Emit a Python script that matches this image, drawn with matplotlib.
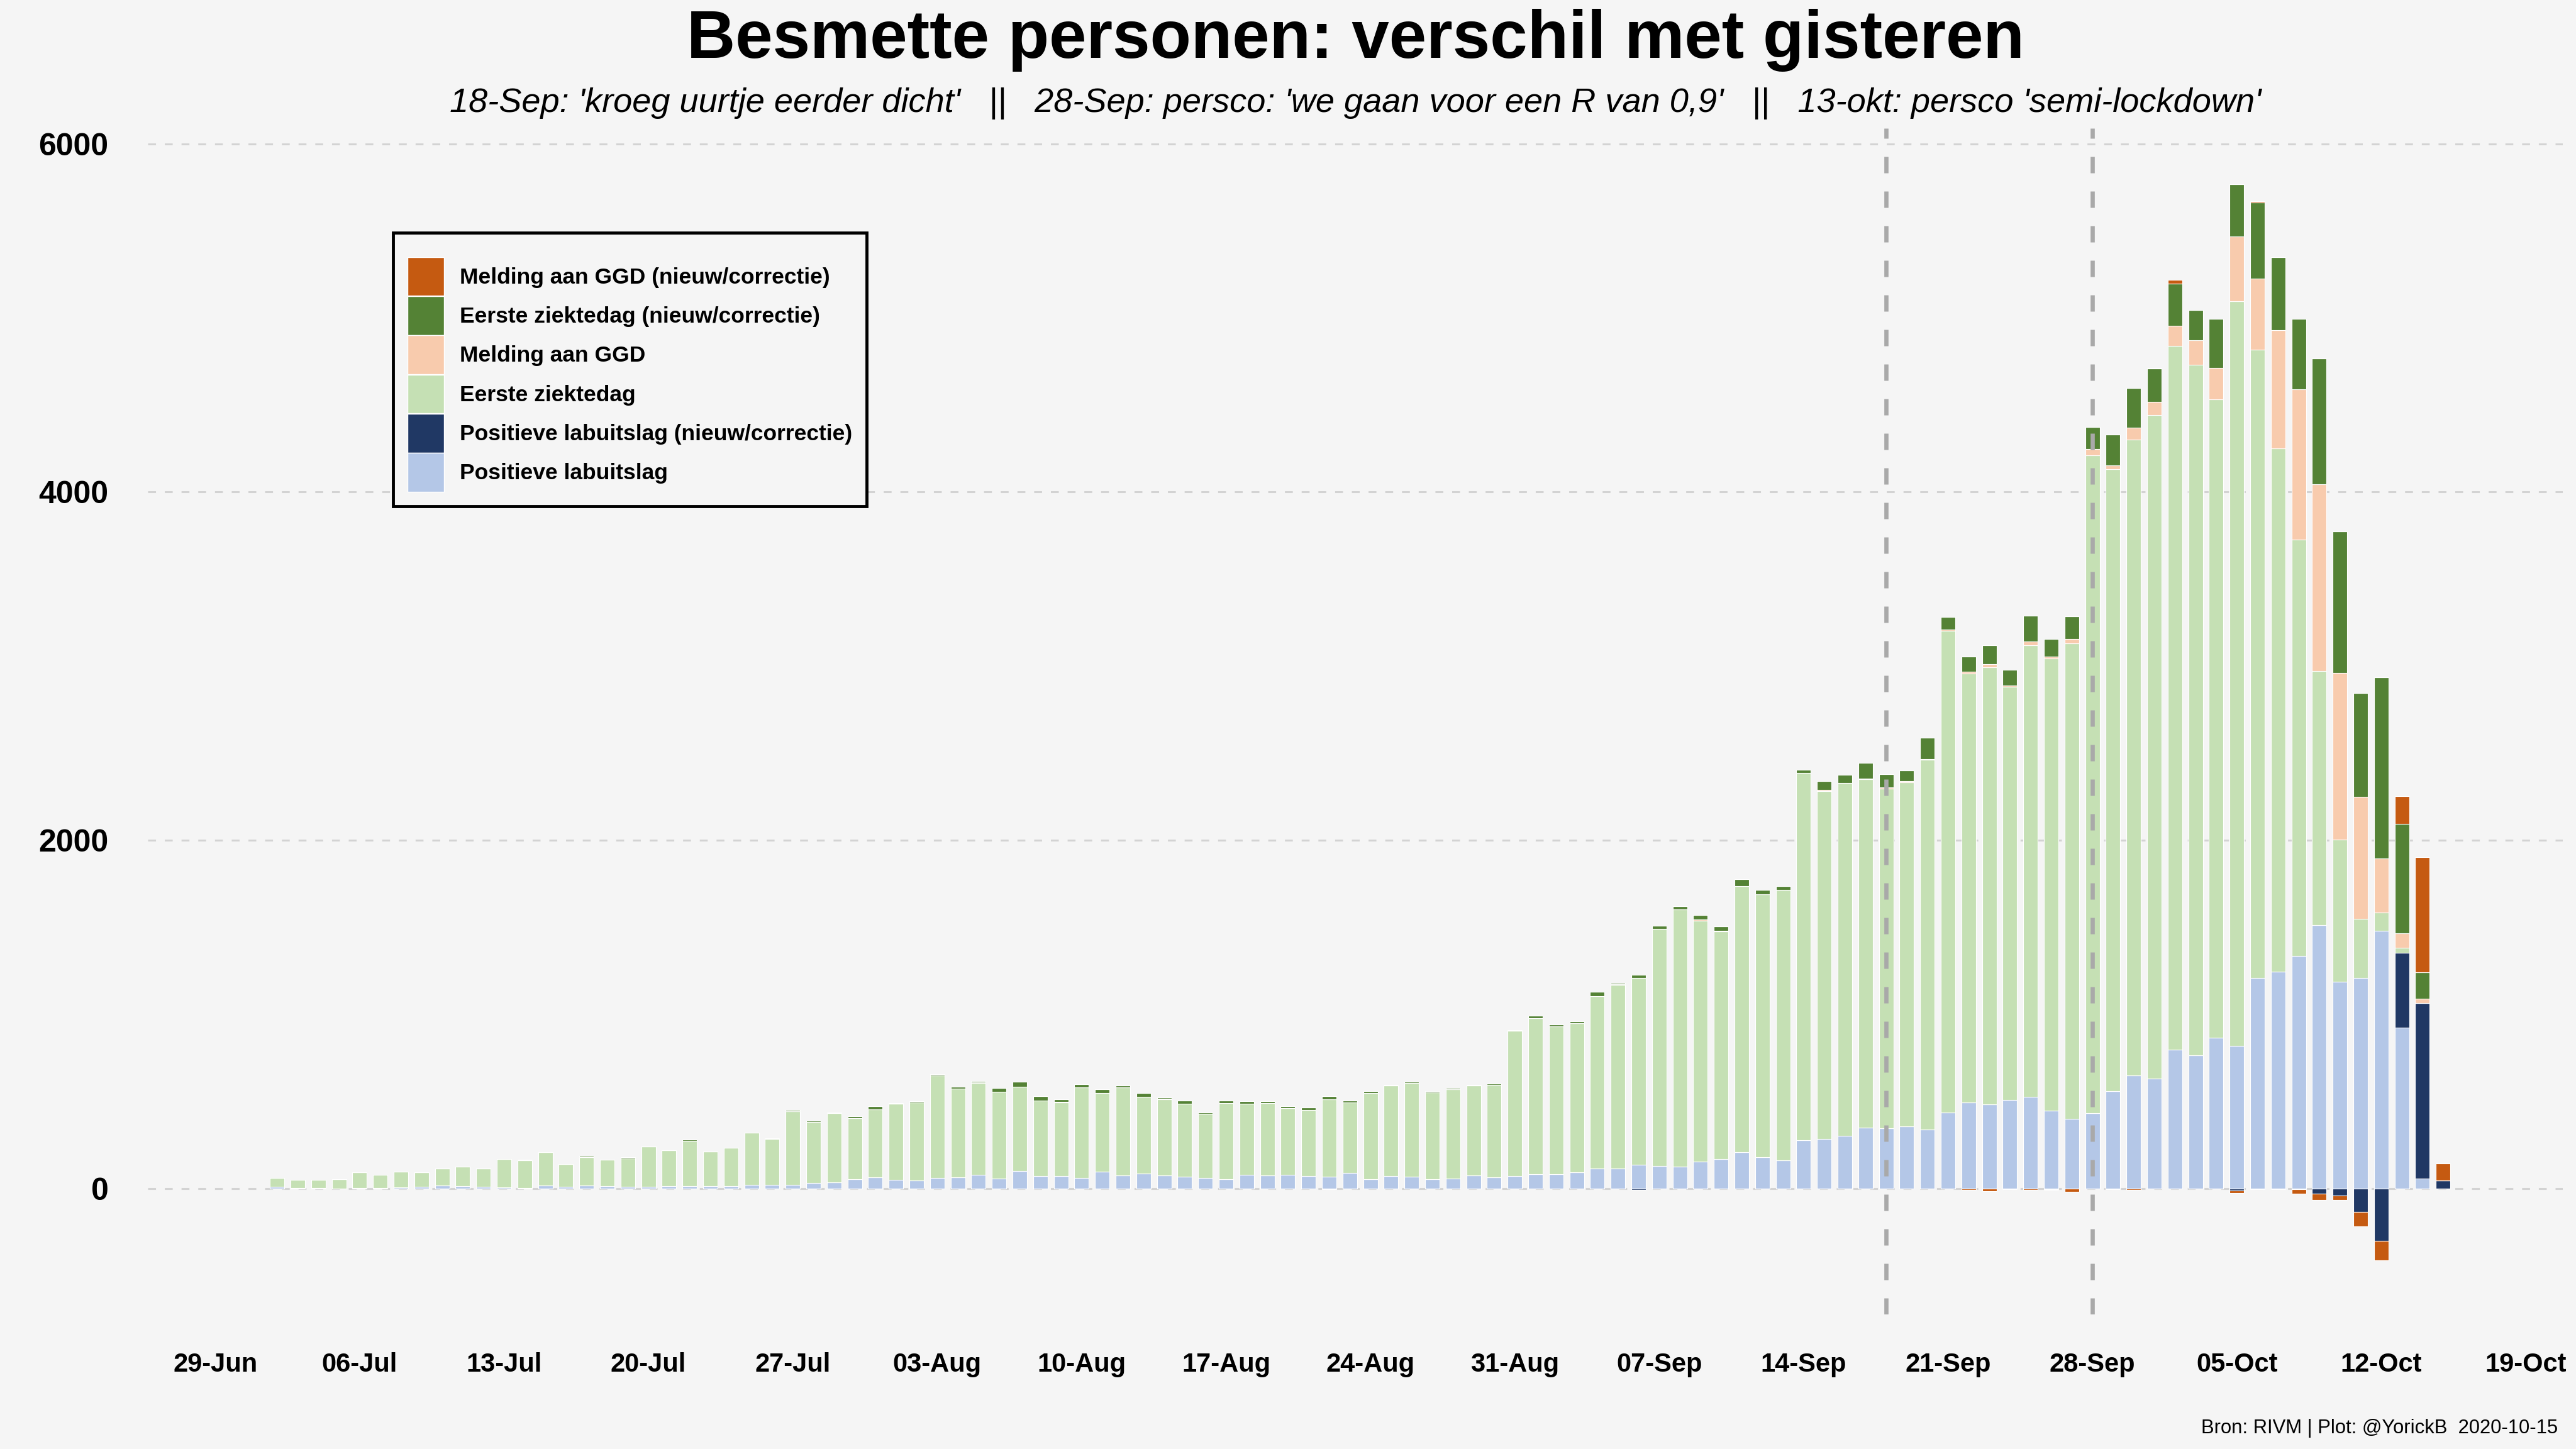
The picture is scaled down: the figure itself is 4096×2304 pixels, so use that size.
import numpy as np
import pandas as pd
import matplotlib
matplotlib.use("Agg")
import matplotlib.pyplot as plt
import matplotlib.dates as mdates
from matplotlib.patches import Patch

plt.rcParams['font.family'] = ['Liberation Sans', 'DejaVu Sans']

# dagen: 2 jul t/m 15 okt 2020
dates = pd.date_range("2020-07-02", "2020-10-15", freq="D")

# Positieve labuitslag (lichtblauw)
lab = ([10, 4, 2, 0, 2, 1, 5, 10, 17, 13, 10, 6, 2, 17, 10, 17, 13, 10, 10, 13,
        13, 13, 13, 20, 20, 20, 31, 35, 53, 64] +
       [49, 46, 60, 64, 78, 56, 100, 71, 71, 60, 96, 75, 85, 75, 67, 60, 53, 78,
        75, 78, 71, 66, 90, 53, 71, 66, 53, 58, 75, 64, 71] +
       [83, 83, 94, 115, 113, 137, 130, 126, 154, 169, 207, 180, 162, 277, 283,
        301, 350, 344, 356, 338, 434, 492, 481, 507, 527, 446, 400, 431, 558, 650] +
       [631, 797, 765, 866, 820, 1208, 1246, 1336, 1511, 1189, 1210, 1480, 924, 56, 0])

# Positieve labuitslag (nieuw/correctie)
lab_corr = ([0] * 30 +
            [0] * 14 + [-3] + [0] * 16 +
            [0, 0, 0, 0, 0, -8, 0, 0, 0, 0, 0, 0, 0, 0, 0, 0, 0, 0, 0, 0,
             0, 0, 0, -3, 0, -4, 0, -3, -6, 0] +
            [0, 0, 0, -3, -13, -6, 0, -4, -31, -42, -134, -301, 428, 1007, 45])

# Eerste ziektedag
ziekte = ([50, 44, 46, 52, 89, 77, 91, 84, 99, 112, 106, 163, 159, 191, 130, 162,
           152, 163, 230, 207, 260, 199, 219, 299, 264, 424, 352, 397, 350, 390] +
          [436, 447, 590, 510, 527, 499, 483, 432, 424, 520, 451, 505, 440, 435,
           420, 368, 437, 409, 415, 383, 381, 445, 404, 496, 521, 541, 499, 513,
           515, 530, 833] +
          [896, 847, 853, 990, 1056, 1073, 1362, 1475, 1385, 1306, 1529, 1511,
           1551, 2109, 1999, 2027, 1999, 1952, 1978, 2124, 2769, 2467, 2513, 2376,
           2594, 2597, 2730, 3780, 3572, 3652] +
          [3810, 4044, 3968, 3666, 4278, 3610, 3004, 2392, 1460, 815, 338, 106, 31, 0, 0])

# Melding aan GGD
melding = ([0] * 30 +
           [0, 0, 0, 0, 4, 0, 0, 0, 2, 0, 0, 0, 0, 4, 0, 0, 0, 0, 0, 0,
            0, 0, 0, 0, 0, 0, 0, 0, 0, 0, 0] +
           [0, 0, 0, 0, 5, 0, 0, 0, 5, 4, 0, 0, 0, 0, 6, 0, 6, 6, 6, 6,
            9, 9, 17, 6, 21, 12, 26, 38, 25, 69] +
           [79, 115, 140, 180, 371, 409, 679, 862, 1073, 958, 701, 311, 82, 27, 0])

# Eerste ziektedag (nieuw/correctie)
ziekte_corr = ([0] * 12 + [4, 0, 0, 8, 0, 5, 0, 0, 7, 0, 0, 0, 5, 8, 7, 4, 11, 17] +
               [6, 7, 6, 9, 8, 20, 28, 25, 15, 18, 24, 11, 21, 8, 17, 8, 14, 13,
                10, 12, 11, 17, 11, 11, 4, 4, 6, 4, 6, 7, 5] +
               [13, 13, 11, 26, 6, 17, 17, 20, 25, 26, 41, 22, 25, 18, 52, 47, 90,
                79, 61, 122, 72, 86, 108, 90, 148, 101, 131, 125, 176, 226] +
               [190, 242, 174, 283, 300, 436, 422, 405, 725, 813, 598, 1038, 629, 150, 0])

# Melding aan GGD (nieuw/correctie)
melding_corr = ([0] * 30 +
                [0] * 21 + [-4] + [0] * 9 +
                [0] * 21 + [-7, -15, -3, -10, -4, -20, 0, 0, -8] +
                [3, 20, 0, 0, -15, 7, -4, -25, -36, -25, -85, -112, 159, 662, 98])

c_lab = "#B4C7E7"
c_lab_corr = "#203864"
c_ziekte = "#C5E0B4"
c_melding = "#F8CBAD"
c_ziekte_corr = "#548235"
c_melding_corr = "#C55A11"
bg = "#f5f5f5"

fig = plt.figure(figsize=(40.96, 23.04), dpi=100, facecolor=bg)
ax = fig.add_axes([235 / 4096, (2304 - 2090) / 2304, (4075 - 235) / 4096, (2090 - 204) / 2304])
ax.set_facecolor(bg)

x = mdates.date2num(dates)
w = 0.7

pos_layers = [(lab, c_lab), (lab_corr, c_lab_corr), (ziekte, c_ziekte),
              (melding, c_melding), (ziekte_corr, c_ziekte_corr),
              (melding_corr, c_melding_corr)]
bottom = np.zeros(len(x))
for vals, col in pos_layers:
    v = np.clip(np.array(vals, dtype=float), 0, None)
    ax.bar(x, v, bottom=bottom, width=w, color=col, edgecolor="white",
           linewidth=0.8, zorder=3)
    bottom += v

neg_bottom = np.zeros(len(x))
for vals, col in [(lab_corr, c_lab_corr), (melding_corr, c_melding_corr)]:
    v = np.clip(np.array(vals, dtype=float), None, 0)
    ax.bar(x, v, bottom=neg_bottom, width=w, color=col, edgecolor="white",
           linewidth=0.8, zorder=3)
    neg_bottom += v

# persconferenties
for d in ["2020-09-18", "2020-09-28"]:
    ax.axvline(mdates.date2num(pd.Timestamp(d)), color="#a9a9a9", lw=4.8,
               linestyle=(0, (3.9, 4.35)), zorder=4)

start = mdates.date2num(pd.Timestamp("2020-06-29"))
ax.set_xlim(start - 3.27, start + 113.8)
ax.set_ylim(-724, 6090)

week_ticks = pd.date_range("2020-06-29", "2020-10-19", freq="7D")
ax.set_xticks(mdates.date2num(week_ticks))
ax.set_xticklabels([d.strftime("%d-%b") for d in week_ticks], fontsize=30,
                   fontweight="bold")
ax.set_yticks([0, 2000, 4000, 6000])
ax.set_yticklabels(["0", "2000", "4000", "6000"], fontsize=36, fontweight="bold")
ax.tick_params(axis="x", length=0, pad=43)
ax.tick_params(axis="y", length=0, pad=45)
ax.grid(axis="y", color="#d3d3d3", lw=2.2, linestyle=(0, (4.1, 4.6)), zorder=0)
ax.grid(axis="x", visible=False)
ax.set_axisbelow(True)
for s in ax.spines.values():
    s.set_visible(False)

fig.text((235 + 4075) / 2 / 4096, (2304 - 92) / 2304,
         "Besmette personen: verschil met gisteren",
         ha="center", va="baseline", fontsize=77, fontweight="bold")
fig.text((235 + 4075) / 2 / 4096, (2304 - 178) / 2304,
         "18-Sep: 'kroeg uurtje eerder dicht'   ||   28-Sep: persco: 'we gaan voor een R van 0,9'"
         "   ||   13-okt: persco 'semi-lockdown'",
         ha="center", va="baseline", fontsize=39, style="italic")
fig.text(4067 / 4096, 0.011, "Bron: RIVM | Plot: @YorickB  2020-10-15",
         ha="right", va="baseline", fontsize=22.3)

handles = [
    Patch(facecolor=c_melding_corr, edgecolor="white", label="Melding aan GGD (nieuw/correctie)"),
    Patch(facecolor=c_ziekte_corr, edgecolor="white", label="Eerste ziektedag (nieuw/correctie)"),
    Patch(facecolor=c_melding, edgecolor="white", label="Melding aan GGD"),
    Patch(facecolor=c_ziekte, edgecolor="white", label="Eerste ziektedag"),
    Patch(facecolor=c_lab_corr, edgecolor="white", label="Positieve labuitslag (nieuw/correctie)"),
    Patch(facecolor=c_lab, edgecolor="white", label="Positieve labuitslag"),
]
leg = fig.legend(handles=handles, loc="upper left",
                 bbox_to_anchor=(625 / 4096, (2304 - 370) / 2304),
                 bbox_transform=fig.transFigure, borderaxespad=0,
                 prop={"size": 25.5, "weight": "bold"}, title=" ",
                 title_fontsize=12, handlelength=1.65, handleheight=2.3,
                 labelspacing=0.02, handletextpad=0.7, borderpad=0.65,
                 fancybox=False, framealpha=1)
leg.get_frame().set_facecolor(bg)
leg.get_frame().set_edgecolor("black")
leg.get_frame().set_linewidth(3.5)

fig.savefig("out.png", dpi=100, facecolor=bg)
